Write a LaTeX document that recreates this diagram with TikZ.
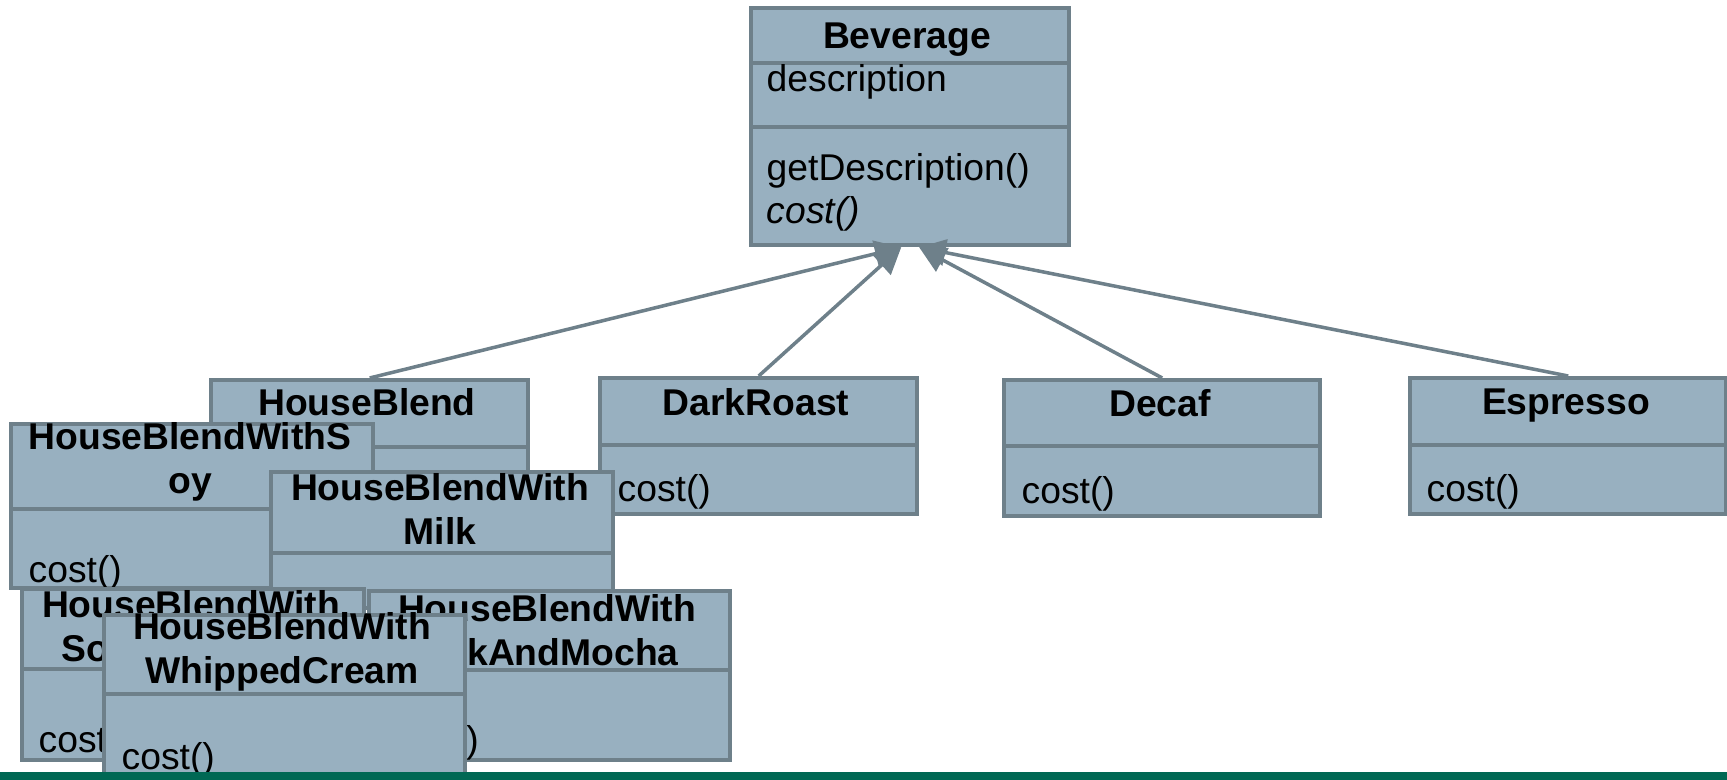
\documentclass[tikz,border=0pt]{standalone}
\usepackage{fontspec}
\setmainfont{Liberation Sans}
\usetikzlibrary{calc,shapes,arrows.meta}
\definecolor{boxfill}{HTML}{98B0C0}
\definecolor{boxline}{HTML}{6E808A}
\definecolor{barcolor}{HTML}{006854}
\tikzset{
    cls/.style = {draw = boxline, fill = boxfill, line width = 1.2pt, inner sep = 0pt, anchor = north west},
    clsname/.style = {font = \fontsize{10.6}{12.6}\selectfont\bfseries, align = center, inner sep = 0pt},
    clsop/.style = {font = \fontsize{10.6}{12.6}\selectfont, anchor = west, inner sep = 0pt},
    divider/.style = {draw = boxline, line width = 1.2pt},
    inherit/.style = {draw = boxline, line width = 1pt, -{Triangle[length = 7.5pt, width = 7.5pt]}}
}
\begin{document}
\begin{tikzpicture}[x = 0.01cm, y = -0.01cm]
    \useasboundingbox (0,0) rectangle (1727,780);

    \node [cls, minimum width = 3.18cm, minimum height = 2.37cm] (bev) at (749,6) {};
    \draw [divider] ($(bev.north west)+(0,57)$) -- ($(bev.north east)+(0,57)$);
    \draw [divider] ($(bev.north west)+(0,121)$) -- ($(bev.north east)+(0,121)$);
    \node [clsname] (bevName) at (907,40) {Beverage};
    \node [clsop] (bevAttr) at (766,82) {description};
    \node [clsop] (bevOp) at (766,171) {getDescription()};
    \node [clsop, font = \fontsize{10.6}{12.6}\selectfont\itshape] (bevCost) at (766,214) {cost()};

    \node [cls, minimum width = 3.17cm, minimum height = 1.36cm] (hb) at (209,378) {};
    \draw [divider] ($(hb.north west)+(0,69)$) -- ($(hb.north east)+(0,69)$);
    \node [clsname] (hbName) at (367,402) {HouseBlend};

    \node [cls, minimum width = 3.17cm, minimum height = 1.36cm] (dr) at (598,376) {};
    \draw [divider] ($(dr.north west)+(0,69)$) -- ($(dr.north east)+(0,69)$);
    \node [clsname] (drName) at (756,402) {DarkRoast};
    \node [clsop] (drCost) at (617,492) {cost()};

    \node [cls, minimum width = 3.16cm, minimum height = 1.36cm] (dc) at (1002,378) {};
    \draw [divider] ($(dc.north west)+(0,68)$) -- ($(dc.north east)+(0,68)$);
    \node [clsname] (dcName) at (1160,403) {Decaf};
    \node [clsop] (dcCost) at (1021,494) {cost()};

    \node [cls, minimum width = 3.16cm, minimum height = 1.36cm] (es) at (1408,376) {};
    \draw [divider] ($(es.north west)+(0,69)$) -- ($(es.north east)+(0,69)$);
    \node [clsname] (esName) at (1566,406) {Espresso};
    \node [clsop] (esCost) at (1426,492) {cost()};

    \node [cls, minimum width = 3.62cm, minimum height = 1.64cm] (hbs) at (9,422) {};
    \draw [divider] ($(hbs.north west)+(0,87)$) -- ($(hbs.north east)+(0,87)$);
    \node [clsname] (hbsName) at (190,462) {HouseBlendWithS\\oy};
    \node [clsop] (hbsCost) at (28,573) {cost()};

    \node [cls, minimum width = 3.42cm, minimum height = 1.36cm] (hbm) at (269,470) {};
    \draw [divider] ($(hbm.north west)+(0,83)$) -- ($(hbm.north east)+(0,83)$);
    \node [clsname] (hbmName) at (440,509) {HouseBlendWith\\Milk};

    \node [cls, minimum width = 3.42cm, minimum height = 1.71cm] (hbsm) at (20,587) {};
    \draw [divider] ($(hbsm.north west)+(0,82)$) -- ($(hbsm.north east)+(0,82)$);
    \node [clsname] (hbsmName) at (191,630) {HouseBlendWith\\SoyAndMocha};
    \node [clsop] (hbsmCost) at (38,743) {cost()};

    \node [cls, minimum width = 3.61cm, minimum height = 1.69cm] (hbmm) at (367,589) {};
    \draw [divider] ($(hbmm.north west)+(0,81)$) -- ($(hbmm.north east)+(0,81)$);
    \node [clsname] (hbmmName) at (547,630) {HouseBlendWith\\MilkAndMocha};
    \node [clsop] (hbmmCost) at (385,743) {cost()};

    \node [cls, minimum width = 3.61cm, minimum height = 1.62cm] (hbw) at (102,613) {};
    \draw [divider] ($(hbw.north west)+(0,81)$) -- ($(hbw.north east)+(0,81)$);
    \node [clsname] (hbwName) at (282,652) {HouseBlendWith\\WhippedCream};
    \node [clsop] (hbwCost) at (121,760) {cost()};

    \coordinate (tipL) at ($(bev.south)+(-9,0)$);
    \coordinate (tipR) at ($(bev.south)+(9,0)$);
    \draw [inherit] (hb.north) -- (tipL);
    \draw [inherit] (dr.north) -- (tipL);
    \draw [inherit] (dc.north) -- (tipR);
    \draw [inherit] (es.north) -- (tipR);

    \fill [barcolor] (0,772) rectangle (1727,780);
\end{tikzpicture}
\end{document}
